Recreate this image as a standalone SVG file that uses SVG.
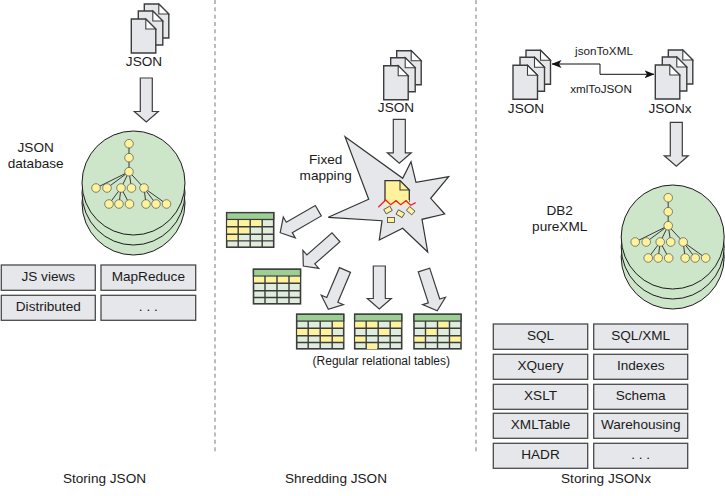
<svg xmlns="http://www.w3.org/2000/svg" xmlns:xlink="http://www.w3.org/1999/xlink" width="725" height="496" viewBox="0 0 725 496">
<style>
text{font-family:"Liberation Sans",Arial,sans-serif;font-size:13.6px;fill:#1a1a1a;text-anchor:middle}
.sm{font-size:11.7px}
.md{font-size:12px}
.box{fill:#e6e7ea;stroke:#4a4a4a;stroke-width:1.3}
.doc{fill:#e6e7ea;stroke:#3c3c3c;stroke-width:1.4;stroke-linejoin:miter}
.fold{fill:#fff;stroke:#3c3c3c;stroke-width:1.1}
.arrow{fill:#e6e7ea;stroke:#3c3c3c;stroke-width:1.2;stroke-linejoin:miter}
.disc{fill:#cde5c9;stroke:#1c1c1c;stroke-width:1}
.n{fill:#fff29a;stroke:#555;stroke-width:.7}
.e{stroke:#3a3a3a;stroke-width:1;fill:none}
.sep{stroke:#a6a6a6;stroke-width:1.5;stroke-dasharray:4 3.33;fill:none}
.tb{fill:#e0eddc;stroke:#3c3c3c;stroke-width:1.6}
.th{fill:#9ccf93;stroke:#3c3c3c;stroke-width:1.3}
.tl{stroke:#3c3c3c;stroke-width:1.4;fill:none}
.y{fill:#fff29a}
.shard{fill:#fff29a;stroke:#444;stroke-width:.8}
</style>
<defs>
<g id="doc"><path class="doc" d="M0,0H14.5L24.5,10V34H0Z"/><path class="fold" d="M14.5,0V10H24.5Z"/></g>
<g id="docs"><use xlink:href="#doc" x="13" y="-15"/><use xlink:href="#doc" x="7" y="-8"/><use xlink:href="#doc"/></g>
<g id="db">
<ellipse class="disc" cx="0" cy="20" rx="51.5" ry="52"/>
<ellipse class="disc" cx="0" cy="10" rx="51.5" ry="52"/>
<ellipse class="disc" cx="0" cy="0" rx="51.5" ry="52"/>
<path class="e" d="M-4.5,-39.3V-11.3M-4.5,-11.3L-37.5,5M-4.5,-11.3L-26.5,5M-4.5,-11.3L-12.5,5M-4.5,-11.3L-2,5M-4.5,-11.3L10.5,5M-12.5,5L-24.5,21M-12.5,5L-14.5,21M-12.5,5L-4,21M10.5,5L12.5,21M10.5,5L22.5,21M10.5,5L33,21"/>
<circle class="n" cx="-4.5" cy="-39.3" r="4.3"/><circle class="n" cx="-4.5" cy="-25.3" r="4.3"/><circle class="n" cx="-4.5" cy="-11.3" r="4.3"/>
<circle class="n" cx="-37.5" cy="5" r="4.3"/><circle class="n" cx="-26.5" cy="5" r="4.3"/><circle class="n" cx="-12.5" cy="5" r="4.3"/><circle class="n" cx="-2" cy="5" r="4.3"/><circle class="n" cx="10.5" cy="5" r="4.3"/>
<circle class="n" cx="-24.5" cy="21" r="4.3"/><circle class="n" cx="-14.5" cy="21" r="4.3"/><circle class="n" cx="-4" cy="21" r="4.3"/><circle class="n" cx="12.5" cy="21" r="4.3"/><circle class="n" cx="22.5" cy="21" r="4.3"/><circle class="n" cx="33" cy="21" r="4.3"/>
</g>
<g id="tbl">
<rect class="tb" width="47" height="34.5"/>
<rect class="th" width="47" height="6.8"/>
</g>
<path id="grid" class="tl" d="M0,14H47M0,21.5H47M0,28.2H47M11.5,6.8V34.5M23.5,6.8V34.5M35.5,6.8V34.5"/>
<rect id="c" class="y" width="10.5" height="6.3"/>
<marker id="ah" viewBox="0 0 10 8" refX="9.5" refY="4" markerWidth="10" markerHeight="8" markerUnits="userSpaceOnUse" orient="auto-start-reverse"><path d="M0,0L10,4L0,8L2.5,4Z" fill="#111"/></marker>
</defs>

<g id="separators">
<line class="sep" x1="215" y1="0" x2="215" y2="452"/>
<line class="sep" x1="476" y1="0" x2="476" y2="452"/>
</g>

<g id="connectors">
<polygon class="arrow" points="-6,0 6,0 6,33.5 12,33.5 0,44 -12,33.5 -6,33.5" transform="translate(146.3,78)"/>
<polygon class="arrow" points="-6,0 6,0 6,33.5 12,33.5 0,44 -12,33.5 -6,33.5" transform="translate(676.3,122.3)"/>
<polyline points="552,64 600,64 600,74.3 654,74.3" fill="none" stroke="#111" stroke-width="1" marker-start="url(#ah)" marker-end="url(#ah)"/>
<polygon class="arrow" points="-6,0 6,0 6,33.5 12,33.5 0,44 -12,33.5 -6,33.5" transform="translate(318.3,210.7) rotate(60)"/>
<polygon class="arrow" points="-6,0 6,0 6,33.5 12,33.5 0,43.5 -12,33.5 -6,33.5" transform="translate(336,237.3) rotate(48.7)"/>
<polygon class="arrow" points="-6,0 6,0 6,32.5 12,32.5 0,42.7 -12,32.5 -6,32.5" transform="translate(345,270) rotate(23)"/>
<polygon class="arrow" points="-6,0 6,0 6,32.5 12,32.5 0,43 -12,32.5 -6,32.5" transform="translate(379.3,266)"/>
<polygon class="arrow" points="-6,0 6,0 6,32.5 12,32.5 0,42.8 -12,32.5 -6,32.5" transform="translate(424,270) rotate(-18)"/>
</g>

<g id="json-left">
<use xlink:href="#docs" x="131.3" y="19"/>
<text x="144" y="66">JSON</text>
</g>
<g id="json-database">
<use xlink:href="#db" x="133.5" y="183"/>
<text x="35.7" y="152.3">JSON</text>
<text x="35.7" y="168.3">database</text>
</g>
<g id="box-jsviews"><rect class="box" x="1.3" y="265" width="94" height="25.3"/><text x="48.3" y="280.7">JS views</text></g>
<g id="box-mapreduce"><rect class="box" x="101" y="265" width="94.7" height="25.3"/><text x="148.3" y="280.7">MapReduce</text></g>
<g id="box-distributed"><rect class="box" x="1.3" y="295.3" width="94" height="25"/><text x="48.3" y="310.7">Distributed</text></g>
<g id="box-more-left"><rect class="box" x="101" y="295.3" width="94.7" height="25"/><text x="148.3" y="310.7">. . .</text></g>

<g id="json-middle">
<use xlink:href="#docs" x="383.7" y="65.7"/>
<text x="396" y="112.3">JSON</text>
</g>
<g id="shredder">
<polygon fill="#e6e7ea" stroke="#333" stroke-width="1.2" points="345,136.7 402.7,178.3 411,161.7 416,182.3 448.7,176.7 430.7,198.3 444.7,214 422,219.3 427.7,252 402.7,228.3 379.3,240 382,220.7 328.3,217.3 368.7,199.3"/>
<path d="M385,202V180.7H400L409.3,190V202" fill="#fff29a" stroke="#333" stroke-width="1.3"/>
<path d="M385,200L409.3,200V205L385,205Z" fill="#fff29a"/>
<path class="fold" style="fill:#fff29a" d="M400,180.7V190H409.3Z"/>
<polyline points="378.3,207.3 385.7,200 390.7,204.7 396,200.7 400.7,204.7 406,200.7 410.7,205.3 415.7,202.7" fill="none" stroke="#ee2233" stroke-width="1.3"/>
<rect class="shard" x="-3.5" y="-2.5" width="7" height="5" transform="translate(388,210) rotate(-30)"/>
<rect class="shard" x="-3.5" y="-2.5" width="7" height="5" transform="translate(400.3,213.7) rotate(30)"/>
<rect class="shard" x="-3.5" y="-2.5" width="7" height="5" transform="translate(410.7,210.7) rotate(40)"/>
<rect class="shard" x="-3.5" y="-2.5" width="7" height="5" transform="translate(391,220)"/>
<text x="325.7" y="164">Fixed</text>
<text x="325.7" y="180">mapping</text>
</g>

<g id="table-1" transform="translate(226.7,212.7)">
<use xlink:href="#tbl"/>
<use xlink:href="#c" x=".5" y="7.5"/><use xlink:href="#c" x="12" y="7.5"/><use xlink:href="#c" x="24" y="7.5"/>
<use xlink:href="#c" x=".5" y="14.7"/><use xlink:href="#c" x="12" y="14.7"/>
<use xlink:href="#c" x=".5" y="21.7"/>
<use xlink:href="#grid"/>
</g>
<g id="table-2" transform="translate(253.5,269.3)">
<use xlink:href="#tbl"/>
<use xlink:href="#c" x=".5" y="7.5"/><use xlink:href="#c" x="12" y="7.5"/><use xlink:href="#c" x="24" y="7.5"/><use xlink:href="#c" x="36" y="7.5"/>
<use xlink:href="#grid"/>
</g>
<g id="table-3" transform="translate(296.7,314.3)">
<use xlink:href="#tbl"/>
<use xlink:href="#c" x="36" y="7.5"/>
<use xlink:href="#c" x=".5" y="14.7"/><use xlink:href="#c" x="12" y="14.7"/><use xlink:href="#c" x="24" y="14.7"/>
<use xlink:href="#c" x="24" y="21.7"/><use xlink:href="#c" x="36" y="21.7"/>
<use xlink:href="#grid"/>
</g>
<g id="table-4" transform="translate(354.7,314.3)">
<use xlink:href="#tbl"/>
<use xlink:href="#c" x=".5" y="7.5"/><use xlink:href="#c" x="12" y="7.5"/><use xlink:href="#c" x="36" y="7.5"/>
<use xlink:href="#c" x="24" y="14.7"/>
<use xlink:href="#c" x=".5" y="21.7"/>
<use xlink:href="#c" x="12" y="28.5"/>
<use xlink:href="#grid"/>
</g>
<g id="table-5" transform="translate(414,314.3)">
<use xlink:href="#tbl"/>
<use xlink:href="#c" x="24" y="7.5"/>
<use xlink:href="#c" x="12" y="14.7"/>
<use xlink:href="#c" x=".5" y="21.7"/><use xlink:href="#c" x="36" y="21.7"/>
<use xlink:href="#grid"/>
</g>
<text id="tables-caption" class="md" x="381.3" y="365">(Regular relational tables)</text>

<g id="json-right">
<use xlink:href="#docs" x="513" y="65.3"/>
<text x="526" y="113.3">JSON</text>
</g>
<g id="jsonx">
<use xlink:href="#docs" x="655.3" y="65"/>
<text x="670" y="113.3">JSONx</text>
</g>
<text id="label-jsontoxml" class="sm" x="604" y="55">jsonToXML</text>
<text id="label-xmltojson" class="sm" x="601" y="93.3">xmlToJSON</text>
<g id="db2">
<use xlink:href="#db" x="672.7" y="237"/>
<text x="559.7" y="215">DB2</text>
<text x="559.7" y="231">pureXML</text>
</g>
<g id="box-sql"><rect class="box" x="493.3" y="324" width="94.4" height="25.3"/><text x="540.5" y="339.7">SQL</text></g>
<g id="box-sqlxml"><rect class="box" x="593.7" y="324" width="94" height="25.3"/><text x="640.7" y="339.7">SQL/XML</text></g>
<g id="box-xquery"><rect class="box" x="493.3" y="354.3" width="94.4" height="25"/><text x="540.5" y="369.5">XQuery</text></g>
<g id="box-indexes"><rect class="box" x="593.7" y="354.3" width="94" height="25"/><text x="640.7" y="369.5">Indexes</text></g>
<g id="box-xslt"><rect class="box" x="493.3" y="384.3" width="94.4" height="25"/><text x="540.5" y="399.7">XSLT</text></g>
<g id="box-schema"><rect class="box" x="593.7" y="384.3" width="94" height="25"/><text x="640.7" y="399.7">Schema</text></g>
<g id="box-xmltable"><rect class="box" x="493.3" y="413.3" width="94.4" height="25"/><text x="540.5" y="429">XMLTable</text></g>
<g id="box-warehousing"><rect class="box" x="593.7" y="413.3" width="94" height="25"/><text x="640.7" y="429">Warehousing</text></g>
<g id="box-hadr"><rect class="box" x="493.3" y="443.3" width="94.4" height="25"/><text x="540.5" y="458.7">HADR</text></g>
<g id="box-more-right"><rect class="box" x="593.7" y="443.3" width="94" height="25"/><text x="640.7" y="458.7">. . .</text></g>

<text id="caption-1" x="104.5" y="483">Storing JSON</text>
<text id="caption-2" x="336" y="483">Shredding JSON</text>
<text id="caption-3" x="606" y="483">Storing JSONx</text>

<polygon id="arrow-top" class="arrow" points="-6,0 6,0 6,33.5 12,33.5 0,44 -12,33.5 -6,33.5" transform="translate(399.3,119.3)"/>
</svg>
